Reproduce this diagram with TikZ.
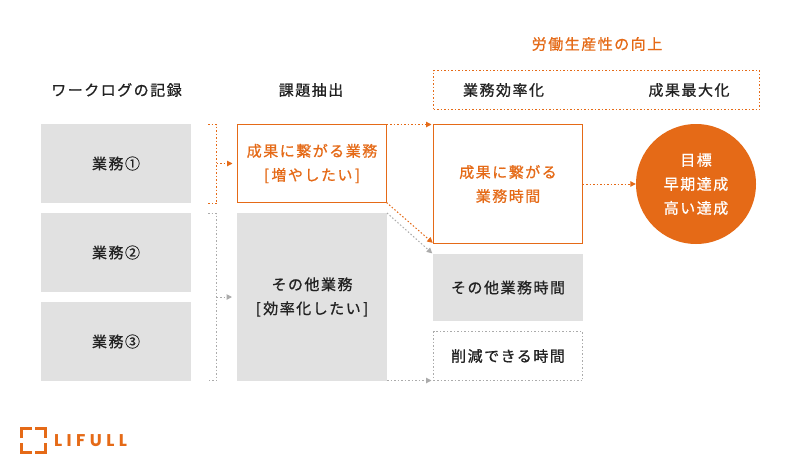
\documentclass[tikz,border=0pt]{standalone}
\usepackage{fontspec}
\setmainfont[LetterSpace=10,FakeBold=0.8]{Noto Sans CJK JP}
\newfontfamily\logofont[LetterSpace=26]{Poppins}
\usetikzlibrary{arrows.meta}
\definecolor{lforange}{HTML}{E56A17}
\definecolor{lfgray}{HTML}{E1E1E1}
\definecolor{lfdot}{HTML}{ABABAB}
\definecolor{lftext}{HTML}{222222}
\tikzset{
  box/.style={inner sep=0pt,outer sep=0pt,align=center,text=lftext,font=\fontsize{15}{24}\selectfont},
  graybox/.style={box,fill=lfgray},
  orangebox/.style={box,draw=lforange,line width=1pt,text=lforange,fill=white},
  head/.style={inner sep=0pt,text=lftext,font=\fontsize{15}{18}\selectfont},
  dots/.style={line width=1pt,dash pattern=on 1.5pt off 2pt},
  okconn/.style={draw=lforange,dots,-{Triangle[length=5.5pt,width=5.5pt,fill=lforange,sep=0pt]}},
  grconn/.style={draw=lfdot,dots,-{Triangle[length=5.5pt,width=5.5pt,fill=lfdot,sep=0pt]}},
  okline/.style={draw=lforange,dots},
  grline/.style={draw=lfdot,dots},
}
\begin{document}
\begin{tikzpicture}[x=1pt,y=-1pt]
\useasboundingbox (0,0) rectangle (800,474);
\fill[white] (0,0) rectangle (800,474);
% headers
\node[head] (h1) at (116.5,90) {ワークログの記録};
\node[head] (h2) at (311,90) {課題抽出};
\node[head,text=lforange] (h3) at (597,44) {労働生産性の向上};
\node[box,draw=lforange,dots,minimum width=326pt,minimum height=39pt] (frame) at (596.5,90) {};
\node[head] (h4) at (503.5,90) {業務効率化};
\node[head] (h5) at (689,90) {成果最大化};
% left column
\node[graybox,minimum width=150pt,minimum height=79pt] (a1) at (116,163.5) {業務①};
\node[graybox,minimum width=150pt,minimum height=79pt] (a2) at (116,252.5) {業務②};
\node[graybox,minimum width=150pt,minimum height=79pt] (a3) at (116,341.5) {業務③};
% middle column
\node[orangebox,minimum width=149pt,minimum height=78pt] (b1) at (312,163.5) {成果に繋がる業務\\{[}\,増やしたい\,{]}};
\node[graybox,minimum width=150pt,minimum height=168pt] (b2) at (312,297) {その他業務\\{[}\,効率化したい\,{]}};
% right column
\node[orangebox,minimum width=149pt,minimum height=119pt] (c1) at (508,184) {成果に繋がる\\業務時間};
\node[graybox,minimum width=150pt,minimum height=67pt] (c2) at (508,287.5) {その他業務時間};
\node[box,draw=lfdot,dots,minimum width=149pt,minimum height=49pt] (c3) at (508,356) {削減できる時間};
% circle
\node[circle,fill=lforange,text=white,inner sep=0pt,minimum size=120pt,align=center,font=\fontsize{15}{24}\selectfont] (goal) at (696,184) {目標\\早期達成\\高い達成};
% brackets
\coordinate (p1) at (208,124.5);
\coordinate (p2) at (216.5,124.5);
\coordinate (p3) at (216.5,203.5);
\coordinate (p4) at (208,203.5);
\coordinate (p5) at (216.5,163.5);
\draw[okline] (p1) -- (p2) -- (p3) -- (p4);
\draw[okconn,shorten >=5pt] (p5) -- (b1.west);
\coordinate (q1) at (208,213.5);
\coordinate (q2) at (216.5,213.5);
\coordinate (q3) at (216.5,380.5);
\coordinate (q4) at (208,380.5);
\coordinate (q5) at (216.5,297);
\draw[grline] (q1) -- (q2) -- (q3) -- (q4);
\draw[grconn,shorten >=5pt] (q5) -- (b2.west);
% connectors
\draw[okconn,shorten >=2pt] (b1.north east) -- (c1.north west);
\draw[grconn,shorten >=1pt] (b2.north east) -- (c2.north west);
\draw[okconn,shorten >=1pt] (b1.south east) -- (c1.south west);
\draw[grconn,shorten >=2pt] (b2.south east |- c3.south west) -- (c3.south west);
\draw[okconn] (c1.east) -- (goal.west);
% logo
\begin{scope}[draw=lforange,line width=3pt]
\draw (21.5,438) -- (21.5,428.5) -- (32,428.5);
\draw (35,428.5) -- (45,428.5) -- (45,438);
\draw (21.5,443) -- (21.5,452) -- (32,452);
\draw (35,452) -- (45,452) -- (45,443);
\end{scope}
\node[inner sep=0pt,anchor=west,text=lforange,font=\logofont\bfseries\fontsize{17}{17}\selectfont] (logo) at (54,441) {LIFULL};
\end{tikzpicture}
\end{document}
